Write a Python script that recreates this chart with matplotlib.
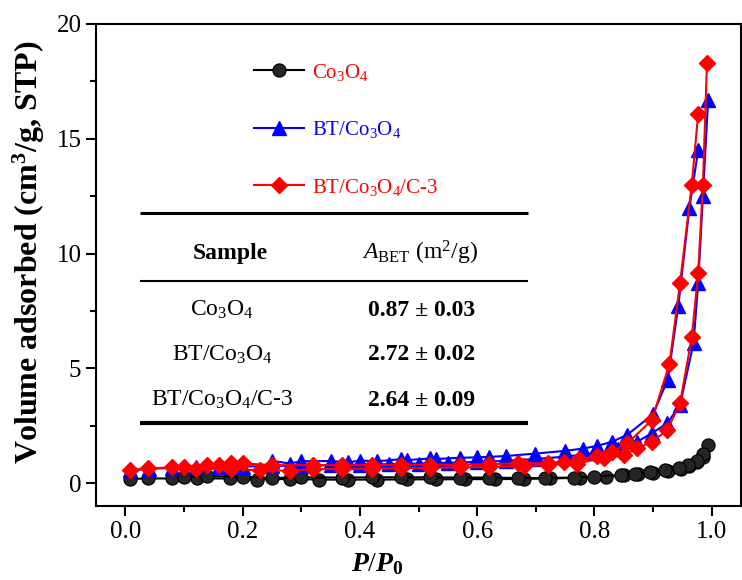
"""N2 adsorption-desorption isotherms with BET surface area table."""
import matplotlib
matplotlib.use("Agg")
import matplotlib.pyplot as plt
from matplotlib.ticker import MultipleLocator

plt.rcParams["font.family"] = "Liberation Serif"
plt.rcParams["mathtext.fontset"] = "custom"
plt.rcParams["mathtext.rm"] = "Liberation Serif"
plt.rcParams["mathtext.it"] = "Liberation Serif:italic"
plt.rcParams["mathtext.bf"] = "Liberation Serif:bold"
plt.rcParams["mathtext.bfit"] = "Liberation Serif:italic:bold"

# ── isotherm data (P/P0, cm3/g STP) ──────────────────────────────────────────
co_ads_p = [0.008, 0.039, 0.08, 0.122, 0.178, 0.224, 0.28, 0.33, 0.38, 0.43, 0.48, 0.53,
            0.58, 0.63, 0.68, 0.725, 0.775, 0.82, 0.85, 0.875, 0.9, 0.925, 0.947, 0.962,
            0.975, 0.985, 0.993]
co_ads_v = [0.18, 0.2, 0.2, 0.2, 0.2, 0.15, 0.18, 0.15, 0.15, 0.15, 0.16, 0.16,
            0.17, 0.17, 0.18, 0.2, 0.23, 0.27, 0.33, 0.38, 0.45, 0.52, 0.62, 0.75,
            0.9, 1.15, 1.66]
co_des_p = [0.985, 0.975, 0.96, 0.945, 0.92, 0.895, 0.87, 0.845, 0.8, 0.765, 0.715, 0.67,
            0.62, 0.57, 0.52, 0.47, 0.42, 0.37, 0.3, 0.25, 0.2, 0.14, 0.1]
co_des_v = [1.25, 0.97, 0.8, 0.66, 0.55, 0.48, 0.4, 0.36, 0.28, 0.24, 0.22, 0.22,
            0.24, 0.24, 0.25, 0.25, 0.25, 0.24, 0.25, 0.22, 0.28, 0.3, 0.25]

bt_ads_p = [0.008, 0.04, 0.08, 0.12, 0.16, 0.2, 0.25, 0.3, 0.35, 0.4, 0.45, 0.5, 0.55,
            0.6, 0.65, 0.7, 0.75, 0.8, 0.84, 0.873, 0.898, 0.924, 0.946, 0.969, 0.977,
            0.985, 0.994]
bt_ads_v = [0.55, 0.62, 0.66, 0.68, 0.7, 0.72, 0.74, 0.76, 0.78, 0.8, 0.82, 0.85, 0.88,
            0.92, 0.97, 1.05, 1.15, 1.3, 1.5, 1.8, 2.17, 2.6, 3.4, 6.1, 8.7,
            12.5, 16.7]
bt_des_p = [0.977, 0.962, 0.943, 0.925, 0.9, 0.856, 0.83, 0.805, 0.78, 0.749, 0.698, 0.65,
            0.62, 0.6, 0.57, 0.53, 0.52, 0.48, 0.47, 0.43, 0.4, 0.38, 0.35, 0.3, 0.28, 0.25]
bt_des_v = [14.5, 12.0, 7.7, 4.5, 3.0, 2.1, 1.8, 1.62, 1.5, 1.4, 1.28, 1.18,
            1.14, 1.12, 1.1, 1.05, 1.07, 1.0, 1.04, 0.95, 0.98, 0.9, 0.96, 0.95, 0.85, 0.97]

btc_ads_p = [0.008, 0.039, 0.079, 0.12, 0.18, 0.229, 0.28, 0.32, 0.37, 0.42, 0.47, 0.52,
             0.57, 0.62, 0.68, 0.72, 0.77, 0.816, 0.85, 0.873, 0.898, 0.924, 0.946, 0.966,
             0.977, 0.985, 0.992]
btc_ads_v = [0.57, 0.64, 0.68, 0.62, 0.62, 0.55, 0.54, 0.6, 0.62, 0.63, 0.65, 0.66,
             0.68, 0.7, 0.74, 0.8, 0.85, 1.1, 1.22, 1.51, 1.8, 2.3, 3.47, 6.35,
             9.15, 13.0, 18.3]
btc_des_p = [0.977, 0.966, 0.946, 0.928, 0.898, 0.856, 0.83, 0.805, 0.774, 0.748, 0.72,
             0.669, 0.62, 0.57, 0.52, 0.47, 0.42, 0.37, 0.32, 0.25, 0.2, 0.18, 0.16, 0.14, 0.1]
btc_des_v = [16.1, 13.0, 8.7, 5.2, 2.74, 1.73, 1.37, 1.18, 1.03, 0.93, 0.86,
             0.86, 0.82, 0.8, 0.8, 0.8, 0.78, 0.78, 0.78, 0.78, 0.86, 0.86, 0.78, 0.78, 0.71]

# ── BET table ────────────────────────────────────────────────────────────────
table_samples = [r"Co$\mathregular{_3}$O$\mathregular{_4}$",
                 r"BT/Co$\mathregular{_3}$O$\mathregular{_4}$",
                 r"BT/Co$\mathregular{_3}$O$\mathregular{_4}$/C-3"]
table_abet = ["0.87 ± 0.03", "2.72 ± 0.02", "2.64 ± 0.09"]

fig = plt.figure(figsize=(7.42, 5.8), dpi=100)
ax = fig.add_axes([96 / 742, 74 / 580, 645 / 742, 482 / 580])

styles = [
    (co_ads_p, co_ads_v, co_des_p, co_des_v,
     dict(color="black", marker="o", markersize=9.5, markerfacecolor="#262626",
          markeredgecolor="black", markeredgewidth=0.8),
     r"Co$\mathregular{_3}$O$\mathregular{_4}$", "red"),
    (bt_ads_p, bt_ads_v, bt_des_p, bt_des_v,
     dict(color="blue", marker="^", markersize=10),
     r"BT/Co$\mathregular{_3}$O$\mathregular{_4}$", "blue"),
    (btc_ads_p, btc_ads_v, btc_des_p, btc_des_v,
     dict(color="red", marker="D", markersize=8.5),
     r"BT/Co$\mathregular{_3}$O$\mathregular{_4}$/C-3", "red"),
]

handles, labels, text_colors = [], [], []
for ads_p, ads_v, des_p, des_v, st, label, tcol in styles:
    line, = ax.plot(ads_p, ads_v, linewidth=1.5, **st)
    ax.plot(des_p, des_v, linewidth=1.5, **st)
    handles.append(line)
    labels.append(label)
    text_colors.append(tcol)

leg = ax.legend(handles, labels, loc="upper left", bbox_to_anchor=(0.245, 0.922),
                frameon=False, fontsize=15, handlelength=2.4, handletextpad=0.4,
                labelspacing=1.75, borderpad=0, borderaxespad=0)
for txt, c in zip(leg.get_texts(), text_colors):
    txt.set_color(c)

# table rules and text, axes fraction coordinates
x0, x1 = (140 - 96) / 645, (528 - 96) / 645
for py, lw in [(213, 2.2), (281, 1.5), (423, 3.0)]:
    fy = (506 - py) / 482
    ax.plot([x0, x1], [fy, fy], color="black", linewidth=lw,
            transform=ax.transAxes, clip_on=False, solid_capstyle="butt")

col_sample = (222 - 96) / 645
col_value = (422 - 96) / 645
ax.text((230 - 96) / 645, (506 - 253) / 482, "Sample", transform=ax.transAxes,
        ha="center", va="center", fontsize=17, fontweight="bold")
ax.text((420 - 96) / 645, (506 - 253) / 482,
        r"$\mathit{A}_{\mathrm{BET}}$ (m$\mathregular{^2}$/g)", transform=ax.transAxes,
        ha="center", va="center", fontsize=17)
for i, (s, a) in enumerate(zip(table_samples, table_abet)):
    fy = (506 - (310 + 45 * i)) / 482
    ax.text(col_sample, fy, s, transform=ax.transAxes, ha="center", va="center",
            fontsize=17)
    ax.text(col_value, fy, a, transform=ax.transAxes, ha="center", va="center",
            fontsize=17, fontweight="bold")

ax.set_xlim(-0.05, 1.05)
ax.set_ylim(-1, 20)
ax.xaxis.set_major_locator(MultipleLocator(0.2))
ax.xaxis.set_minor_locator(MultipleLocator(0.1))
ax.yaxis.set_major_locator(MultipleLocator(5))
ax.yaxis.set_minor_locator(MultipleLocator(2.5))
ax.tick_params(which="both", direction="out", width=1.5, labelsize=18, top=False, right=False)
ax.tick_params(which="major", length=7)
ax.tick_params(which="minor", length=4)
for sp in ax.spines.values():
    sp.set_linewidth(1.5)

ax.set_xlabel(r"$\mathbfit{P}$/$\mathbfit{P}_{\mathbf{0}}$", fontsize=20)
ax.xaxis.set_label_coords(0.437, -0.094)
ax.set_ylabel(r"Volume adsorbed (cm$\mathregular{^3}$/g, STP)", fontsize=23,
              fontweight="bold")
ax.yaxis.set_label_coords(-0.076, 0.527)

fig.savefig("out.png", dpi=100, facecolor="white")
